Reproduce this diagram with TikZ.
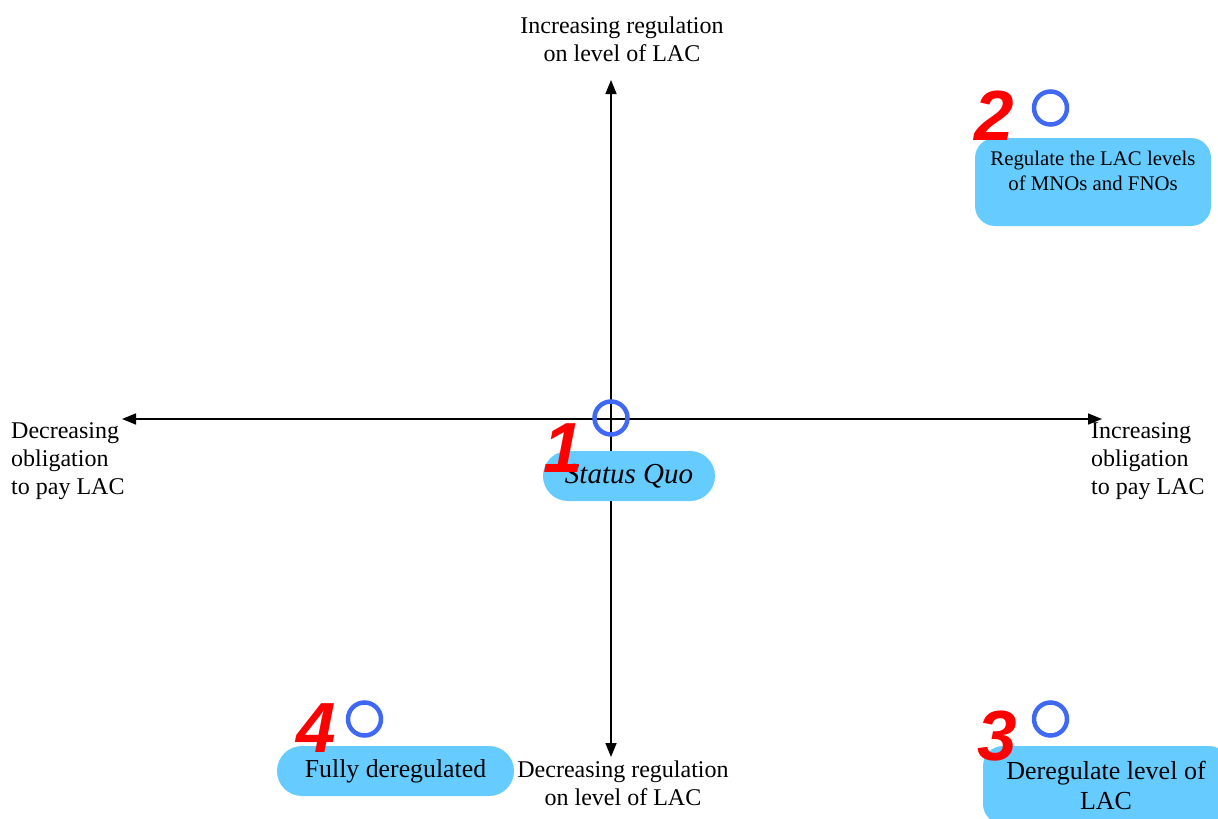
\documentclass[tikz,border=0pt]{standalone}
\usepackage{fontspec}
\setmainfont{Liberation Serif}
\newfontfamily\numfont{Liberation Sans}
\usetikzlibrary{arrows.meta}
\definecolor{boxblue}{HTML}{66CCFF}
\definecolor{ringblue}{HTML}{3F69F5}

\begin{document}
\begin{tikzpicture}[x=1pt, y=-1pt,
        axis/.style = {line width=1.6pt, {Triangle[length=14pt,width=11pt]}-{Triangle[length=14pt,width=11pt]}},
        lbl/.style = {font=\fontsize{24}{28}\selectfont, align=center, inner sep=0pt},
        main/.style = {fill=boxblue, rounded corners=20pt, inner sep=0pt},
        ring/.style = {draw=ringblue, circle, line width=4.5pt, minimum size=33pt, inner sep=0pt},
        num/.style = {text=red, font=\numfont\bfseries\itshape\fontsize{71}{71}\selectfont, inner sep=0pt, anchor=base}]

    \useasboundingbox (0,0) rectangle (1218,819);

    % the two axes
    \coordinate (W) at (122,419);
    \coordinate (E) at (1102,419);
    \coordinate (N) at (611,80);
    \coordinate (S) at (611,757);
    \draw[axis] (W) -- (E);
    \draw[axis] (S) -- (N);

    \node[lbl] (top) at (622,39) {Increasing regulation\\on level of LAC};
    \node[lbl] (bottom) at (623,783) {Decreasing regulation\\on level of LAC};
    \node[lbl, align=left, anchor=west] (left) at (11,461) {Decreasing\\obligation\\to pay LAC};
    \node[lbl, align=left, anchor=west] (right) at (1091,461) {Increasing\\obligation\\to pay LAC};

    % options
    \node[ring] (r1) at (611,418) {};
    \node[ring] (r2) at (1050.5,108) {};
    \node[ring] (r3) at (1050.5,719) {};
    \node[ring] (r4) at (364.5,719) {};

    \node[main, minimum width=172pt, minimum height=50pt, rounded corners=24.9pt,
          font=\fontsize{29}{34}\selectfont\itshape] (quo) at (629,476) {Status Quo};
    \node[main, minimum width=236pt, minimum height=88pt] (regbox) at (1093,182) {};
    \node[lbl, font=\fontsize{20.8}{25}\selectfont] (regtxt) at (1093,171) {Regulate the LAC levels\\of MNOs and FNOs};
    \node[main, minimum width=246pt, minimum height=78pt, align=center,
          font=\fontsize{26}{30}\selectfont] (dereg) at (1106,785) {Deregulate level of\\LAC};
    \node[main, minimum width=237pt, minimum height=50pt, rounded corners=24.9pt,
          font=\fontsize{25.8}{30}\selectfont] (full) at (395.5,771) {Fully deregulated};

    \node[num] (n1) at (563,472) {1};
    \node[num] (n2) at (994,140) {2};
    \node[num] (n3) at (997,760) {3};
    \node[num] (n4) at (316,752) {4};

\end{tikzpicture}
\end{document}
